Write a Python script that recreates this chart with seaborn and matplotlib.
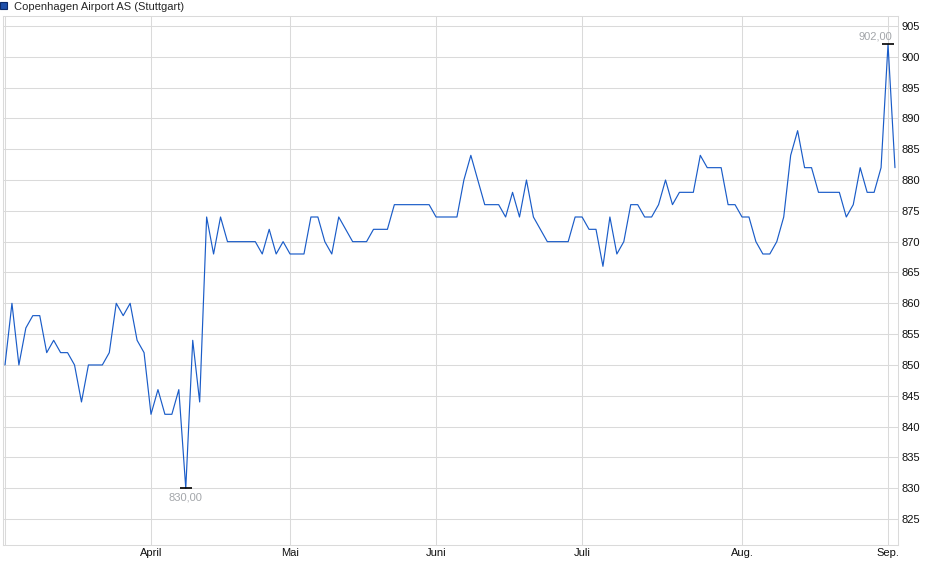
import matplotlib
matplotlib.use("Agg")
import matplotlib.pyplot as plt
from matplotlib.patches import Patch
import seaborn as sns
import pandas as pd

series_name = "Copenhagen Airport AS (Stuttgart)"

prices = [
    850, 860, 850, 856, 858, 858, 852, 854, 852, 852,
    850, 844, 850, 850, 850, 852, 860, 858, 860, 854,
    852, 842, 846, 842, 842, 846, 830, 854, 844, 874,
    868, 874, 870, 870, 870, 870, 870, 868, 872, 868,
    870, 868, 868, 868, 874, 874, 870, 868, 874, 872,
    870, 870, 870, 872, 872, 872, 876, 876, 876, 876,
    876, 876, 874, 874, 874, 874, 880, 884, 880, 876,
    876, 876, 874, 878, 874, 880, 874, 872, 870, 870,
    870, 870, 874, 874, 872, 872, 866, 874, 868, 870,
    876, 876, 874, 874, 876, 880, 876, 878, 878, 878,
    884, 882, 882, 882, 876, 876, 874, 874, 870, 868,
    868, 870, 874, 884, 888, 882, 882, 878, 878, 878,
    878, 874, 876, 882, 878, 878, 882, 902, 882,
]

month_start_idx = [0, 21, 41, 62, 83, 106, 127]
month_labels = ["", "April", "Mai", "Juni", "Juli", "Aug.", "Sep."]
y_ticks = [825, 830, 835, 840, 845, 850, 855, 860, 865, 870, 875, 880, 885, 890, 895, 900, 905]

df = pd.DataFrame({"day": range(len(prices)), "price": prices})

sns.set_theme(style="white")
plt.rcParams["font.family"] = ["Liberation Sans", "DejaVu Sans"]

LINE = "#1a5cc8"
GRID = "#dadada"

fig = plt.figure(figsize=(9.4, 5.79), dpi=100)
ax = fig.add_axes([0.00287, 0.05872, 0.95270, 0.91365])

sns.lineplot(data=df, x="day", y="price", ax=ax, color=LINE, linewidth=0.85, legend=False)

ax.set_xlim(-0.33, 128.47)
ax.set_ylim(820.8, 906.6)

ax.set_xticks(month_start_idx)
ax.set_xticklabels(month_labels)
ax.set_yticks(y_ticks)
ax.set_yticklabels([str(v) for v in y_ticks])
ax.yaxis.tick_right()
ax.tick_params(axis="y", length=0, pad=2.5, labelsize=8, labelcolor="#111111")
ax.tick_params(axis="x", length=1.5, width=0.7, color=GRID, pad=0.3, labelsize=8, labelcolor="#111111", direction="out")
ax.set_xlabel("")
ax.set_ylabel("")

ax.grid(True, color=GRID, linewidth=0.75)
for s in ax.spines.values():
    s.set_color(GRID)
    s.set_linewidth(0.75)

# min / max markers
imin = int(df["price"].idxmin())
imax = int(df["price"].idxmax())
vmin = df["price"].iloc[imin]
vmax = df["price"].iloc[imax]
ax.plot([imin], [vmin], marker="_", markersize=9, markeredgewidth=1.2, color="black", linestyle="none")
ax.plot([imax], [vmax], marker="_", markersize=9, markeredgewidth=1.2, color="black", linestyle="none")
lab = lambda v: f"{v:.2f}".replace(".", ",")
ax.annotate(lab(vmin), (imin, vmin), xytext=(0, -3), textcoords="offset points",
            ha="center", va="top", fontsize=8, color="#a3a6aa")
ax.annotate(lab(vmax), (imax, vmax), xytext=(3, 2), textcoords="offset points",
            ha="right", va="bottom", fontsize=8, color="#a3a6aa")

fig.legend(handles=[Patch(facecolor="#1f4fa8", edgecolor="#0b2a6a", linewidth=0.8)],
           labels=[series_name], loc="upper left", bbox_to_anchor=(-0.0024, 1.0008),
           frameon=False, fontsize=8, handlelength=0.6, handleheight=0.6,
           handletextpad=0.68, borderpad=0.2, borderaxespad=0.0)

fig.savefig("out.png", dpi=100)
